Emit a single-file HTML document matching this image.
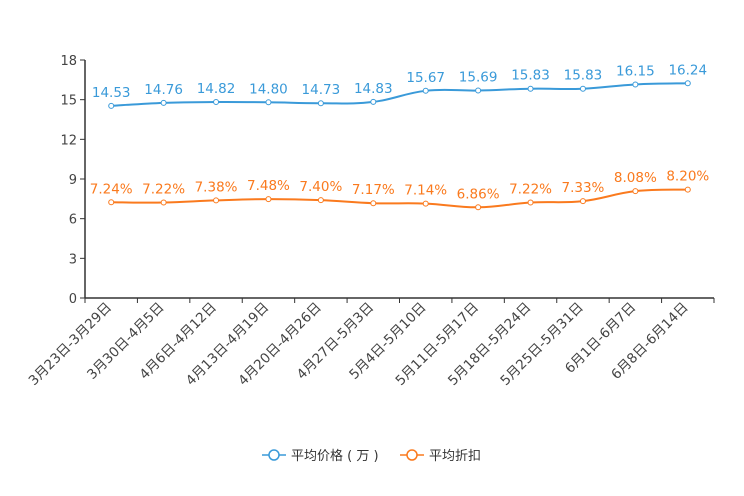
<!DOCTYPE html>
<html><head><meta charset="utf-8"><style>
body{margin:0;background:#fff;}
svg{display:block;font-family:"DejaVu Sans","Noto Sans CJK SC",sans-serif;}
</style></head><body>
<svg id="c" width="744" height="496"></svg>
<script>
const categories=["3月23日-3月29日","3月30日-4月5日","4月6日-4月12日","4月13日-4月19日","4月20日-4月26日","4月27日-5月3日","5月4日-5月10日","5月11日-5月17日","5月18日-5月24日","5月25日-5月31日","6月1日-6月7日","6月8日-6月14日"];
const priceValues=[14.53,14.76,14.82,14.80,14.73,14.83,15.67,15.69,15.83,15.83,16.15,16.24];
const discountValues=[7.24,7.22,7.38,7.48,7.40,7.17,7.14,6.86,7.22,7.33,8.08,8.20];
const yTicks=[0,3,6,9,12,15,18];
const NS="http://www.w3.org/2000/svg";
const svg=document.getElementById('c');
const L=85,R=714,T=60,B=298,YMAX=18;
const bw=(R-L)/categories.length;
const x=i=>L+bw*(i+0.5);
const y=v=>B-(v/YMAX)*(B-T);
function mk(t,a,p){const e=document.createElementNS(NS,t);for(const k in a)e.setAttribute(k,a[k]);(p||svg).appendChild(e);return e;}
yTicks.forEach(t=>{
 const tl=mk('line',{x1:L-5,x2:L,y1:y(t),y2:y(t),stroke:'#333'});
 
 
 const tx=mk('text',{x:L-8,y:y(t)+5,'text-anchor':'end','font-size':13,fill:'#444'});
 tx.textContent=t;
 
 
});
const ya=mk('line',{x1:L,x2:L,y1:T,y2:B,stroke:'#333','stroke-width':1.5});


const xa=mk('line',{x1:L,x2:R,y1:B,y2:B,stroke:'#333','stroke-width':1.5});


for(let i=0;i<=categories.length;i++){
 const tk=mk('line',{x1:L+bw*i,x2:L+bw*i,y1:B,y2:B+5,stroke:'#333'});
 
 
}
categories.forEach((c,i)=>{
 const t=mk('text',{x:x(i)+1,y:B+10,'text-anchor':'end','font-size':13.5,fill:'#444',transform:`rotate(-45 ${x(i)+1} ${B+10})`});
 t.textContent=c;
 
 
});
function path(vals){
 const p=vals.map((v,i)=>[x(i),y(v)]);
 let d=`M${p[0][0]},${p[0][1]}`;
 for(let i=0;i<p.length-1;i++){
  const p0=p[i-1]||p[i],p1=p[i],p2=p[i+1],p3=p[i+2]||p2;
  const k=0.2;
  d+=` C${p1[0]+(p2[0]-p0[0])*k},${p1[1]+(p2[1]-p0[1])*k} ${p2[0]-(p3[0]-p1[0])*k},${p2[1]-(p3[1]-p1[1])*k} ${p2[0]},${p2[1]}`;
 }
 return d;
}
function series(vals,color,name,fmt){
 const g=mk('g',{});
 
 
 const pl=mk('path',{d:path(vals),fill:'none',stroke:color,'stroke-width':2},g);
 
 
 vals.forEach((v,i)=>{
  const c=mk('circle',{cx:x(i),cy:y(v),r:2.5,fill:'#fff',stroke:color,'stroke-width':1},g);
  
  
  const t=mk('text',{x:x(i),y:y(v)-9,'text-anchor':'middle','font-size':13.5,fill:color},g);
  t.textContent=fmt(v);
  
  
 });
}
series(priceValues,'#3a9ad9','price-series',v=>v.toFixed(2));
series(discountValues,'#fa7a1e','discount-series',v=>v.toFixed(2)+'%');
function legend(x0,color,label,name){
 const g=mk('g',{});
 
 
 mk('line',{x1:x0,x2:x0+24,y1:455,y2:455,stroke:color,'stroke-width':1.5},g);
 mk('circle',{cx:x0+12,cy:455,r:5,fill:'#fff',stroke:color,'stroke-width':1.5},g);
 const t=mk('text',{x:x0+29,y:460,'font-size':13,fill:'#333'},g);
 t.textContent=label;
}
legend(262,'#3a9ad9','平均价格 ( 万 )','legend-price');
legend(400,'#fa7a1e','平均折扣','legend-discount');
</script>
</body></html>
